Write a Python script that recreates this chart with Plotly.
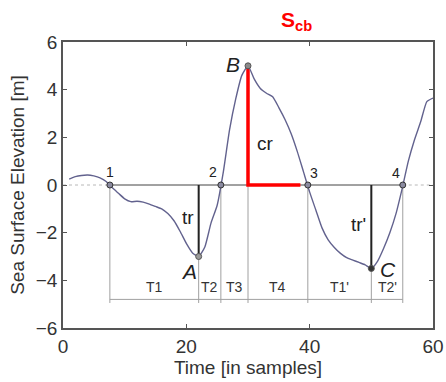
import plotly.graph_objects as go

# ---- data ----
time = list(range(1, 61))
elevation = [0.25, 0.35, 0.4, 0.42, 0.38, 0.3, 0.15, -0.12, -0.35, -0.58,
             -0.7, -0.68, -0.72, -0.8, -0.9, -1.0, -1.2, -1.5, -1.95, -2.45,
             -2.85, -3.0, -2.6, -1.6, -0.85, 0.55, 2.3, 3.6, 4.6, 5.0,
             4.45, 4.05, 3.85, 3.7, 3.25, 2.75, 2.15, 1.4, 0.55, -0.3,
             -1.05, -1.8, -2.3, -2.62, -2.87, -3.05, -3.15, -3.25, -3.35, -3.5,
             -3.2, -2.65, -2.0, -1.2, -0.15, 1.0, 1.9, 2.65, 3.5, 3.65]

crossing_x = [7.6, 25.6, 39.7, 55.1]
crossing_labels = ["1", "2", "3", "4"]

extrema_names = ["A", "B", "C"]
extrema_x = [22, 30, 50]
extrema_y = [-3.0, 5.0, -3.5]

boundaries = [7.6, 22, 25.6, 30, 39.7, 50, 55.1]
segment_labels = ["T1", "T2", "T3", "T4", "T1'", "T2'"]
baseline_y = -4.8
seg_label_y = -4.3

cr_end_x = 38.5
height_labels = ["cr", "tr", "tr'"]
height_label_x = [32.8, 20.3, 47.9]
height_label_y = [1.75, -1.35, -1.65]

x_ticks = [0, 20, 40, 60]
y_ticks = [-6, -4, -2, 0, 2, 4, 6]

font_family = "Liberation Sans, Arial, sans-serif"
line_col = "#62628e"
frame_col = "#555555"
text_col = "#333333"

fig = go.Figure()

# dotted zero line outside crossings
fig.add_trace(go.Scatter(x=[0, crossing_x[0]], y=[0, 0], mode="lines",
                         line=dict(color="#b8b8b8", width=1, dash="dot"), hoverinfo="skip"))
fig.add_trace(go.Scatter(x=[crossing_x[-1], 60], y=[0, 0], mode="lines",
                         line=dict(color="#b8b8b8", width=1, dash="dot"), hoverinfo="skip"))
# solid zero line between crossings
fig.add_trace(go.Scatter(x=[crossing_x[0], crossing_x[-1]], y=[0, 0], mode="lines",
                         line=dict(color="#444444", width=1), hoverinfo="skip"))

# vertical boundary lines and baseline
bx, by = [], []
for b in boundaries:
    bx += [b, b, None]
    by += [0, baseline_y - 0.15, None]
fig.add_trace(go.Scatter(x=bx, y=by, mode="lines",
                         line=dict(color="#a0a0a0", width=1), hoverinfo="skip"))
fig.add_trace(go.Scatter(x=[boundaries[0], boundaries[-1]], y=[baseline_y, baseline_y], mode="lines",
                         line=dict(color="#a0a0a0", width=1), hoverinfo="skip"))

# tr / tr' vertical lines
fig.add_trace(go.Scatter(x=[extrema_x[0], extrema_x[0], None, extrema_x[2], extrema_x[2]],
                         y=[0, extrema_y[0], None, 0, extrema_y[2]], mode="lines",
                         line=dict(color="#222222", width=2), hoverinfo="skip"))

# red cr lines
fig.add_trace(go.Scatter(x=[extrema_x[1], extrema_x[1], cr_end_x],
                         y=[extrema_y[1], 0, 0], mode="lines",
                         line=dict(color="#ff0000", width=3.5), hoverinfo="skip"))

# the wave curve
fig.add_trace(go.Scatter(x=time, y=elevation, mode="lines",
                         line=dict(color=line_col, width=1.4, shape="spline", smoothing=0.5),
                         hoverinfo="skip"))

# crossing markers
fig.add_trace(go.Scatter(x=crossing_x, y=[0] * len(crossing_x), mode="markers",
                         marker=dict(size=6, color="#8a8aa0", line=dict(color="#333333", width=1)),
                         hoverinfo="skip"))
# extrema markers
fig.add_trace(go.Scatter(x=extrema_x, y=extrema_y, mode="markers",
                         marker=dict(size=6, color=["#9a9a9a", "#8a8a8a", "#333333"],
                                     line=dict(color="#555555", width=1)),
                         hoverinfo="skip"))

annotations = []
# crossing labels
cross_offsets = [(0, 13), (-8, 13), (6, 12), (-7, 12)]
for cx, lab, (dx, dy) in zip(crossing_x, crossing_labels, cross_offsets):
    annotations.append(dict(x=cx, y=0, text=lab, showarrow=False, xshift=dx, yshift=dy,
                            font=dict(size=14, color="#222222")))
# extrema labels
ext_offsets = [(-10, -15), (-15, 1), (17, -1)]
for ex, ey, lab, (dx, dy) in zip(extrema_x, extrema_y, extrema_names, ext_offsets):
    annotations.append(dict(x=ex, y=ey, text="<i>" + lab + "</i>", showarrow=False,
                            xshift=dx, yshift=dy, font=dict(size=21, color="#222222")))
# segment labels
for i, lab in enumerate(segment_labels):
    mid = (boundaries[i] + boundaries[i + 1]) / 2
    annotations.append(dict(x=mid, y=seg_label_y, text=lab, showarrow=False,
                            font=dict(size=14, color=text_col)))
# height labels
for hx, hy, lab in zip(height_label_x, height_label_y, height_labels):
    annotations.append(dict(x=hx, y=hy, text=lab, showarrow=False,
                            font=dict(size=19, color="#222222")))
# title
annotations.append(dict(x=0.63, y=1.0, xref="paper", yref="paper", yanchor="bottom",
                        yshift=6, text="<b>S<sub>cb</sub></b>", showarrow=False,
                        font=dict(size=21, color="#ff0000")))

fig.update_layout(
    width=446, height=382,
    margin=dict(l=63, r=13, t=42, b=54, autoexpand=False),
    plot_bgcolor="white", paper_bgcolor="white",
    showlegend=False,
    font=dict(family=font_family, size=19, color=text_col),
    annotations=annotations,
)
fig.update_xaxes(range=[0, 60], tickvals=x_ticks, ticks="inside", ticklen=4,
                 tickcolor=frame_col, showgrid=False, zeroline=False, automargin=False,
                 showline=True, linecolor=frame_col, linewidth=1.5, mirror="ticks",
                 title=dict(text="Time [in samples]", font=dict(size=19), standoff=0),
                 tickfont=dict(size=19))
fig.update_yaxes(range=[-6, 6], tickvals=y_ticks, ticks="inside", ticklen=4,
                 tickcolor=frame_col, showgrid=False, zeroline=False, automargin=False,
                 showline=True, linecolor=frame_col, linewidth=1.5, mirror="ticks",
                 title=dict(text="Sea Surface Elevation [m]", font=dict(size=19), standoff=6),
                 tickfont=dict(size=19))

fig.write_html("out.html", config={"displayModeBar": False},
               post_script="document.body.style.margin='0px';")
